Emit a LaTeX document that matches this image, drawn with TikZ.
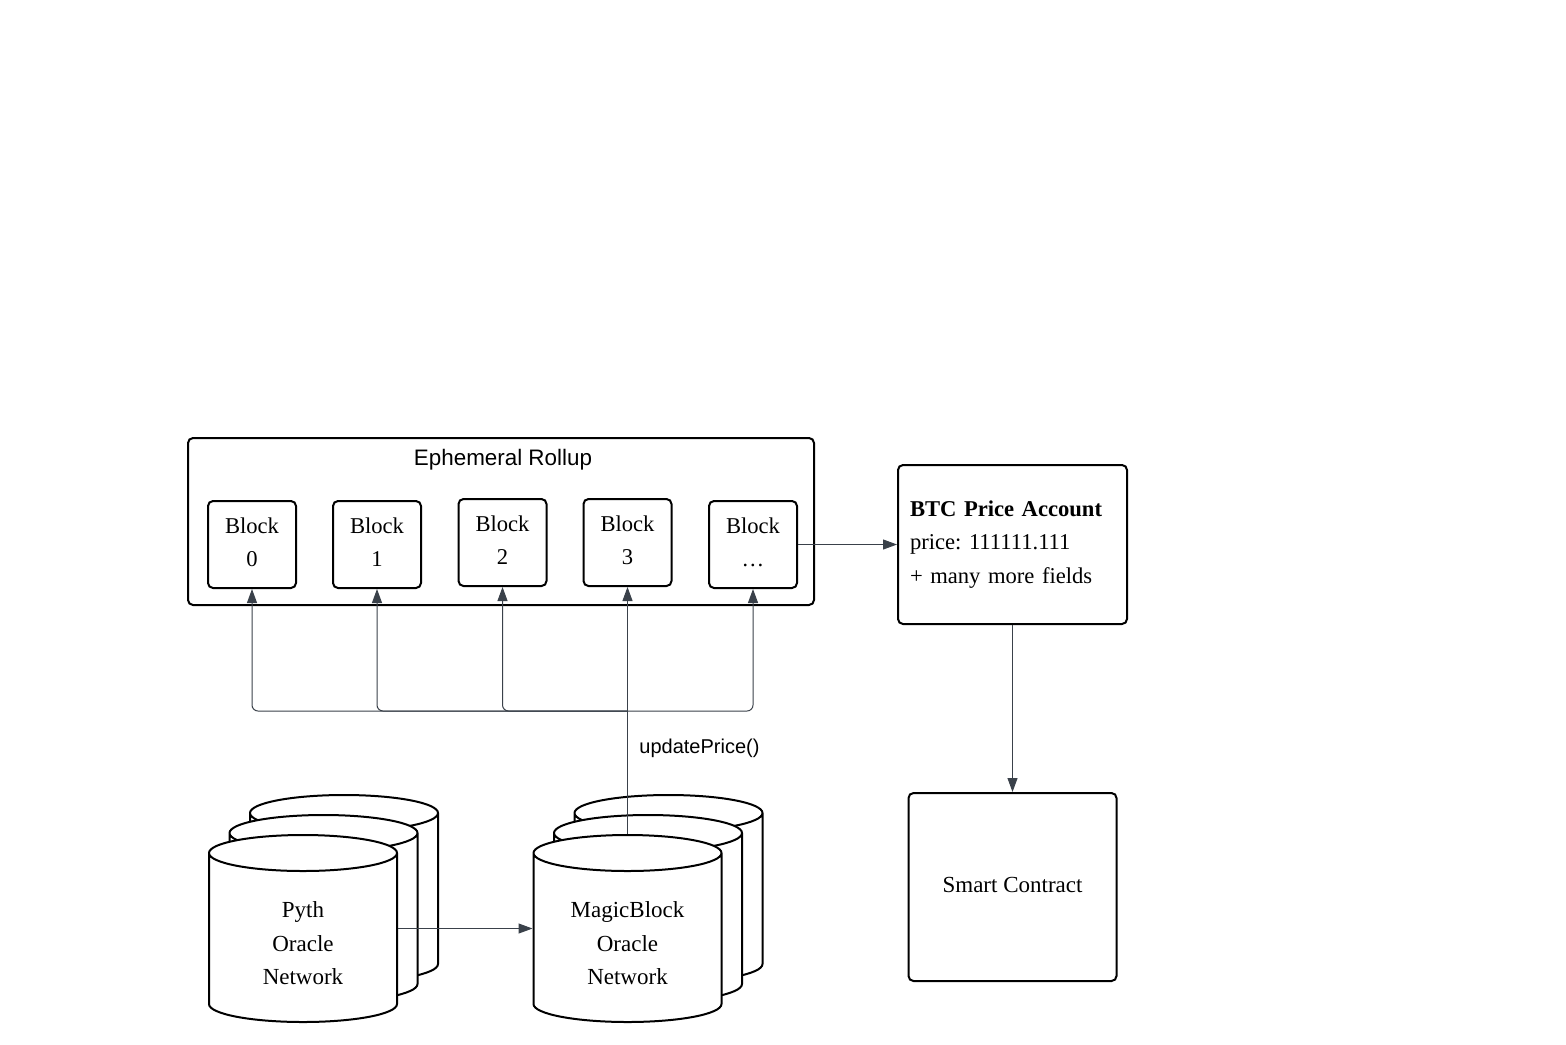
\documentclass[tikz,border=0pt]{standalone}
\usepackage{fontspec}
\setmainfont{Liberation Serif}
\setsansfont{Liberation Sans}
\usetikzlibrary{shapes.geometric,arrows.meta}
\definecolor{linkgray}{HTML}{3A414A}
\frenchspacing

\tikzstyle{rollup} = [draw,line width=1pt,rounded corners=2.5pt,minimum width=313pt,minimum height=83.5pt]
\tikzstyle{block} = [draw,line width=1pt,rounded corners=2.5pt,minimum width=44pt,minimum height=43.5pt,inner sep=0pt,text height=24.2pt,text depth=2pt,align=center,font=\fontsize{11.3}{16.5}\selectfont]
\tikzstyle{account} = [draw,line width=1pt,rounded corners=2.5pt,minimum height=79.5pt,text width=102.5pt,inner xsep=6pt,align=left,font=\fontsize{11.3}{16.75}\selectfont]
\tikzstyle{contract} = [draw,line width=1pt,rounded corners=2.5pt,minimum width=104pt,minimum height=94pt,font=\fontsize{11.5}{14}\selectfont]
\tikzstyle{oracle} = [cylinder,shape border rotate=90,aspect=0.3,draw,line width=1pt,fill=white,minimum width=94pt,minimum height=93.5pt,inner sep=0pt,text width=60pt,text height=19.75pt,text depth=40.25pt,anchor=shape center,align=center,font=\fontsize{11.5}{16.75}\selectfont]
\tikzstyle{sanslabel} = [font=\sffamily\fontsize{10}{12}\selectfont]
\tikzstyle{link} = [draw,linkgray,line width=0.5pt]
\tikzstyle{arrowdecorate} = [link,-{Triangle[length=7pt,width=5pt]}]

\begin{document}
\begin{tikzpicture}[x=0.5pt,y=-0.5pt]
  \useasboundingbox (0,0) rectangle (1566,1044);

  % rollup and its blocks
  \node[rollup] (rollup) at (501,521.5) {};
  \node[sanslabel,font=\sffamily\fontsize{11.2}{13}\selectfont] (title) at (503,460) {Ephemeral Rollup};
  \foreach \name/\label/\x/\y in {
    b0/0/252/544.5, b1/1/377/544.5, b2/2/502.5/542.5,
    b3/3/627.5/542.5, b4/\ldots/753/544.5}
  {
    \node[block] (\name) at (\x,\y) {Block\\\label};
  }

  \node[account] (btc) at (1012.5,544.5) {\textbf{BTC Price Account}\\price: 111111.111\\+ many more fields};
  \node[contract] (contract) at (1012.5,887) {\raisebox{2.5pt}{Smart Contract}};

  % oracle stacks, back to front
  \foreach \stack/\x in {pyth/303, magic/627.5}
  {
    \node[oracle] (\stack3) at (\x+41,888.5) {};
    \node[oracle] (\stack2) at (\x+20.5,908.5) {};
  }
  \node[oracle] (pyth1) at (303,928.5) {Pyth\\Oracle\\Network};
  \node[oracle] (magic1) at (627.5,928.5) {MagicBlock\\Oracle\\Network};

  %edges or lines
  \coordinate (hub) at (627.5,711);
  \draw[link] (magic1.top) -- (hub);
  \foreach \name in {b0,b1,b2,b3,b4}
  {
    \draw[arrowdecorate,rounded corners=3pt] (hub) -| (\name.south);
  }
  \node[sanslabel,anchor=west,inner sep=0pt] (update) at (639,748) {updatePrice()};

  \draw[arrowdecorate] (b4) -- (btc.west |- b4);
  \draw[arrowdecorate] (btc) -- (contract);
  \draw[arrowdecorate] (pyth1.east |- pyth1.shape center) -- (magic1.west |- magic1.shape center);

\end{tikzpicture}
\end{document}
